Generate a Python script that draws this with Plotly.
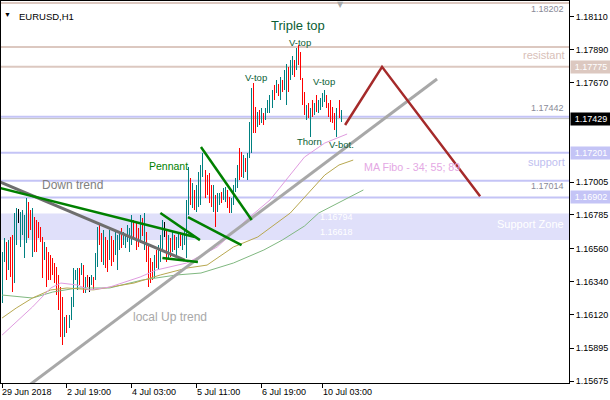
import plotly.graph_objects as go

# ---------------- data ----------------
bar_high = [1.16537, 1.16631, 1.16604, 1.16617, 1.16638, 1.16651, 1.16798, 1.16831, 1.16825, 1.16805,
            1.16818, 1.16785, 1.16898, 1.16871, 1.16818, 1.16831, 1.16771, 1.16751, 1.16738, 1.16704,
            1.16638, 1.16604, 1.16571, 1.16537, 1.16517, 1.16497, 1.16464, 1.16437, 1.16384, 1.16303,
            1.16237, 1.16103, 1.16116, 1.16116, 1.16237, 1.16430, 1.16417, 1.16430, 1.16430, 1.16464,
            1.16450, 1.16370, 1.16384, 1.16370, 1.16384, 1.16370, 1.16531, 1.16704, 1.16731, 1.16664,
            1.16684, 1.16638, 1.16617, 1.16684, 1.16644, 1.16617, 1.16671, 1.16651, 1.16664, 1.16698,
            1.16671, 1.16651, 1.16718, 1.16698, 1.16785, 1.16751, 1.16738, 1.16698, 1.16785, 1.16764,
            1.16798, 1.16671, 1.16584, 1.16497, 1.16470, 1.16517, 1.16551, 1.16584, 1.16651, 1.16751,
            1.16738, 1.16684, 1.16651, 1.16631, 1.16671, 1.16651, 1.16638, 1.16664, 1.16671, 1.16651,
            1.16684, 1.16885, 1.17105, 1.17032, 1.16998, 1.16952, 1.16985, 1.17072, 1.17119, 1.17199,
            1.17085, 1.17052, 1.17065, 1.16985, 1.16985, 1.16918, 1.16932, 1.16932, 1.16938, 1.16965,
            1.16972, 1.16952, 1.16905, 1.16898, 1.16985, 1.17032, 1.17119, 1.17232, 1.17206, 1.17186,
            1.17166, 1.17199, 1.17406, 1.17633, 1.17667, 1.17506, 1.17473, 1.17486, 1.17500, 1.17466,
            1.17500, 1.17553, 1.17587, 1.17620, 1.17653, 1.17687, 1.17660, 1.17707, 1.17687, 1.17754,
            1.17794, 1.17774, 1.17821, 1.17847, 1.17821, 1.17901, 1.17921, 1.17874, 1.17700, 1.17607,
            1.17520, 1.17533, 1.17500, 1.17553, 1.17533, 1.17587, 1.17553, 1.17567, 1.17600, 1.17620,
            1.17587, 1.17533, 1.17553, 1.17506, 1.17466, 1.17500, 1.17553, 1.17486]
bar_low = [1.16196, 1.16470, 1.16350, 1.16417, 1.16370, 1.16270, 1.16330, 1.16584, 1.16731, 1.16571,
           1.16651, 1.16497, 1.16597, 1.16631, 1.16684, 1.16504, 1.16537, 1.16537, 1.16631, 1.16604,
           1.16363, 1.16484, 1.16303, 1.16350, 1.16350, 1.16384, 1.16330, 1.16250, 1.16150, 1.15969,
           1.15916, 1.15969, 1.15996, 1.16029, 1.16083, 1.16170, 1.16350, 1.16283, 1.16317, 1.16384,
           1.16263, 1.16263, 1.16303, 1.16270, 1.16317, 1.16283, 1.16350, 1.16437, 1.16584, 1.16470,
           1.16450, 1.16430, 1.16404, 1.16484, 1.16444, 1.16470, 1.16517, 1.16417, 1.16551, 1.16564,
           1.16584, 1.16564, 1.16604, 1.16537, 1.16584, 1.16617, 1.16551, 1.16571, 1.16597, 1.16644,
           1.16551, 1.16470, 1.16303, 1.16330, 1.16350, 1.16363, 1.16430, 1.16417, 1.16470, 1.16551,
           1.16638, 1.16470, 1.16497, 1.16504, 1.16537, 1.16551, 1.16517, 1.16564, 1.16577, 1.16551,
           1.16584, 1.16497, 1.16785, 1.16851, 1.16831, 1.16818, 1.16805, 1.16838, 1.16851, 1.17039,
           1.16898, 1.16918, 1.16865, 1.16838, 1.16805, 1.16704, 1.16805, 1.16851, 1.16865, 1.16885,
           1.16871, 1.16831, 1.16798, 1.16798, 1.16851, 1.16938, 1.16965, 1.17018, 1.17039, 1.17032,
           1.17072, 1.17018, 1.17166, 1.17199, 1.17333, 1.17333, 1.17373, 1.17386, 1.17400, 1.17386,
           1.17420, 1.17466, 1.17466, 1.17500, 1.17553, 1.17600, 1.17580, 1.17553, 1.17607, 1.17620,
           1.17520, 1.17607, 1.17687, 1.17720, 1.17707, 1.17754, 1.17787, 1.17687, 1.17520, 1.17453,
           1.17420, 1.17433, 1.17306, 1.17440, 1.17453, 1.17473, 1.17466, 1.17486, 1.17506, 1.17540,
           1.17500, 1.17440, 1.17406, 1.17400, 1.17353, 1.17306, 1.17433, 1.17406]
bar_dir = list("uududduunu" "uuuddudddd" "dudddddddd" "duduuuuudu" "dudnuduudd"
               "uddudduuud" "uuuuudddud" "udddduduuu" "ndududuudu" "uuududuuuu"
               "dddduduudu" "udduuuuddu" "duuuddudud" "uuuudududu"
               "uduududddd" "udududuuuu" "dddddudu")

# moving averages (bar index, value)
ma34_x = [0, 15, 24, 29, 37, 43, 53, 68, 76, 91, 106, 122, 132, 142, 149, 159, 170]
ma34_y = [1.15982, 1.16170, 1.16297, 1.16330, 1.16317, 1.16284, 1.16303, 1.16370, 1.16417,
          1.16464, 1.16571, 1.16771, 1.16885, 1.17052, 1.17172, 1.17266, 1.17326]
ma55_x = [0, 7, 15, 24, 32, 45, 65, 78, 91, 101, 114, 126, 142, 149, 159, 166, 173]
ma55_y = [1.16096, 1.16163, 1.16230, 1.16284, 1.16297, 1.16284, 1.16330, 1.16384, 1.16430,
          1.16450, 1.16571, 1.16638, 1.16798, 1.16905, 1.17052, 1.17119, 1.17152]
ma89_x = [0, 15, 25, 37, 53, 69, 86, 98, 114, 129, 138, 149, 156, 168, 178]
ma89_y = [1.16250, 1.16230, 1.16270, 1.16297, 1.16297, 1.16350, 1.16384, 1.16397, 1.16464,
          1.16551, 1.16617, 1.16711, 1.16798, 1.16885, 1.16952]

# drawn objects
down_grey_x, down_grey_y = [-1, 90], [1.17005, 1.16484]
down_green_x, down_green_y = [-1, 95], [1.16965, 1.16638]
pennant_up_x, pennant_up_y = [78, 97.5], [1.16798, 1.16617]
pennant_lo_x, pennant_lo_y = [79, 96.5], [1.16497, 1.16470]
flag_lo_x, flag_lo_y = [91.6, 118], [1.16771, 1.16584]
flag_up_x, flag_up_y = [98, 123], [1.17239, 1.16751]
up_trend_x, up_trend_y = [10, 214.3], [1.15613, 1.17694]
proj_x, proj_y = [169, 187.2, 235.5], [1.17386, 1.17775, 1.16910]

hlines_brown = [1.18202, 1.17907, 1.17775]
hlines_blue = [1.17442, 1.17201, 1.17014, 1.16902]
current_price = 1.17429
zone_top, zone_bottom = 1.16794, 1.16618

y_ticks = [1.18110, 1.17890, 1.17670, 1.17005, 1.16785, 1.16560,
           1.16340, 1.16120, 1.15895, 1.15675]
x_tick_idx = [0, 32, 64, 96, 128, 158]
x_tick_text = ["29 Jun 2018", "2 Jul 19:00", "4 Jul 03:00", "5 Jul 11:00", "6 Jul 19:00", "10 Jul 03:00"]

FONT = "Liberation Sans, Arial, sans-serif"
UP, DOWN, DOJI = "#008080", "#ff0000", "#000000"
BROWN_LINE, BLUE_LINE = "#dcc8c0", "#c4c4f6"

fig = go.Figure()

# bars
for code, col in (("u", UP), ("d", DOWN), ("n", DOJI)):
    xs, ys = [], []
    for i, (h, l, d) in enumerate(zip(bar_high, bar_low, bar_dir)):
        if d == code:
            xs += [i, i, None]
            ys += [l, h, None]
    fig.add_trace(go.Scatter(x=xs, y=ys, mode="lines", line=dict(color=col, width=1),
                             hoverinfo="skip", showlegend=False))

# MAs
for xs, ys, col in ((ma89_x, ma89_y, "#80b880"), (ma55_x, ma55_y, "#b8a850"), (ma34_x, ma34_y, "#e09ce0")):
    fig.add_trace(go.Scatter(x=xs, y=ys, mode="lines", line=dict(color=col, width=1),
                             hoverinfo="skip", showlegend=False))

# objects
objs = [
    (down_grey_x, down_grey_y, "#6e6e6e", 3),
    (up_trend_x, up_trend_y, "#a8a8a8", 3),
    (down_green_x, down_green_y, "#008000", 2.5),
    (pennant_up_x, pennant_up_y, "#008000", 2.5),
    (pennant_lo_x, pennant_lo_y, "#008000", 2.5),
    (flag_lo_x, flag_lo_y, "#008000", 2.5),
    (flag_up_x, flag_up_y, "#008000", 2.5),
    (proj_x, proj_y, "#a52a2a", 2.5),
]
for xs, ys, col, w in objs:
    fig.add_trace(go.Scatter(x=xs, y=ys, mode="lines", line=dict(color=col, width=w),
                             hoverinfo="skip", showlegend=False))

shapes = [dict(type="rect", xref="paper", x0=0, x1=1, yref="y", y0=zone_bottom, y1=zone_top,
               fillcolor="#e0e0fa", line=dict(width=0), layer="below")]
for p in hlines_brown:
    shapes.append(dict(type="line", xref="paper", x0=0, x1=1, yref="y", y0=p, y1=p,
                       line=dict(color=BROWN_LINE, width=2), layer="below"))
for p in hlines_blue:
    shapes.append(dict(type="line", xref="paper", x0=0, x1=1, yref="y", y0=p, y1=p,
                       line=dict(color=BLUE_LINE, width=2), layer="below"))
shapes.append(dict(type="line", xref="paper", x0=0, x1=1, yref="y", y0=current_price, y1=current_price,
                   line=dict(color="#c0c0c0", width=1), layer="below"))

ann = []
def txt(x, y, t, size, color, xanchor="center", xref="x", yref="y", yshift=0, xshift=0, **kw):
    ann.append(dict(x=x, y=y, xref=xref, yref=yref, text=t, showarrow=False, xanchor=xanchor,
                    yshift=yshift, xshift=xshift, font=dict(family=FONT, size=size, color=color), **kw))

GREEN_TXT = "#0b5e34"
txt(145.8, 1.18050, "Triple top", 13, GREEN_TXT)
txt(146.8, 1.17941, "V-top", 9.5, GREEN_TXT)
txt(125.1, 1.17707, "V-top", 9.5, GREEN_TXT)
txt(158.6, 1.17680, "V-top", 9.5, GREEN_TXT)
txt(151.7, 1.17279, "Thorn", 9.5, GREEN_TXT)
txt(167.0, 1.17259, "V-bot.", 9.5, GREEN_TXT)
txt(81.8, 1.17112, "Pennant", 10.5, "#008000")
txt(34.5, 1.16985, "Down trend", 12, "#808080")
txt(82.8, 1.16103, "local Up trend", 12, "#a8a8a8")
txt(202, 1.17105, "MA Fibo - 34; 55; 89", 10.7, "#e4a8e4")

# right-edge labels inside plot
txt(1, 1.18202, "1.18202", 9, "#8a8a98", xanchor="right", xref="paper", yshift=-6.5, xshift=-3)
txt(1, 1.17775, "resistant", 11, "#d8c0b8", xanchor="right", xref="paper", yshift=12, xshift=-2)
txt(1, 1.17442, "1.17442", 9, "#8a8a98", xanchor="right", xref="paper", yshift=8.5, xshift=-3)
txt(1, 1.17201, "support", 11, "#c0c0f0", xanchor="right", xref="paper", yshift=-9, xshift=-2)
txt(1, 1.17014, "1.17014", 9, "#8a8a98", xanchor="right", xref="paper", yshift=-5, xshift=-3)
txt(155.7, zone_top, "1.16794", 9, "#ffffff", xanchor="left", yshift=-3)
txt(155.7, zone_bottom, "1.16618", 9, "#ffffff", xanchor="left", yshift=8)
txt(1, (zone_top + zone_bottom) / 2, "Support Zone", 11, "#ffffff", xanchor="right", xref="paper",
    yshift=3, xshift=-3)

# axis price boxes
for p, bg in ((current_price, "#000000"), (1.17775, "#dcc8c0"), (1.17201, "#c4c4f6"), (1.16902, "#c4c4f6")):
    ann.append(dict(x=1, xref="paper", y=p, yref="y", text=f"{p:.5f}", showarrow=False,
                    xanchor="left", xshift=1, bgcolor=bg, borderpad=1, width=38, align="center",
                    font=dict(family=FONT, size=9, color="#ffffff")))

# header and shift marker
txt(0.012, 0.978, "▼", 7, "#000000", xref="paper", yref="paper")
txt(0.028, 0.978, "EURUSD,H1", 9.5, "#000000", xanchor="left", xref="paper", yref="paper")
ann.append(dict(x=166.5, xref="x", y=1, yref="paper", yanchor="top", text="▼", showarrow=False,
                yshift=3, font=dict(family="DejaVu Sans", size=8, color="#a8a8a8")))

# x labels (left-aligned at ticks)
for xi, t in zip(x_tick_idx, x_tick_text):
    ann.append(dict(x=xi, xref="x", y=0, yref="paper", yanchor="top", xanchor="left", text=t,
                    showarrow=False, yshift=-2, xshift=-2, font=dict(family=FONT, size=9, color="#000000")))

fig.update_layout(
    width=610, height=400,
    margin=dict(l=1, r=41, t=1, b=17),
    paper_bgcolor="#ffffff", plot_bgcolor="#ffffff",
    shapes=shapes, annotations=ann, showlegend=False,
    xaxis=dict(range=[-0.5, 279.3], showgrid=False, zeroline=False, showline=True, linecolor="#000000",
               linewidth=1, mirror=True, ticks="outside", ticklen=4, tickcolor="#000000",
               tickvals=x_tick_idx, showticklabels=False, fixedrange=True),
    yaxis=dict(range=[1.15662, 1.18215], side="right", showgrid=False, zeroline=False, showline=True,
               linecolor="#000000", linewidth=1, mirror=True, ticks="outside", ticklen=4,
               tickcolor="#000000", tickvals=y_ticks, ticktext=[f"{v:.5f}" for v in y_ticks],
               tickfont=dict(family=FONT, size=9, color="#000000"), fixedrange=True),
)

post = (
    "document.body.style.margin='0';document.body.style.overflow='hidden';"
    "var tr=document.querySelectorAll('.scatterlayer .trace');"
    "for(var k=0;k<3&&k<tr.length;k++){tr[k].querySelectorAll('path').forEach(function(p){"
    "p.style.shapeRendering='crispEdges';});}"
)
fig.write_html("out.html", config={"displayModeBar": False}, post_script=post)
